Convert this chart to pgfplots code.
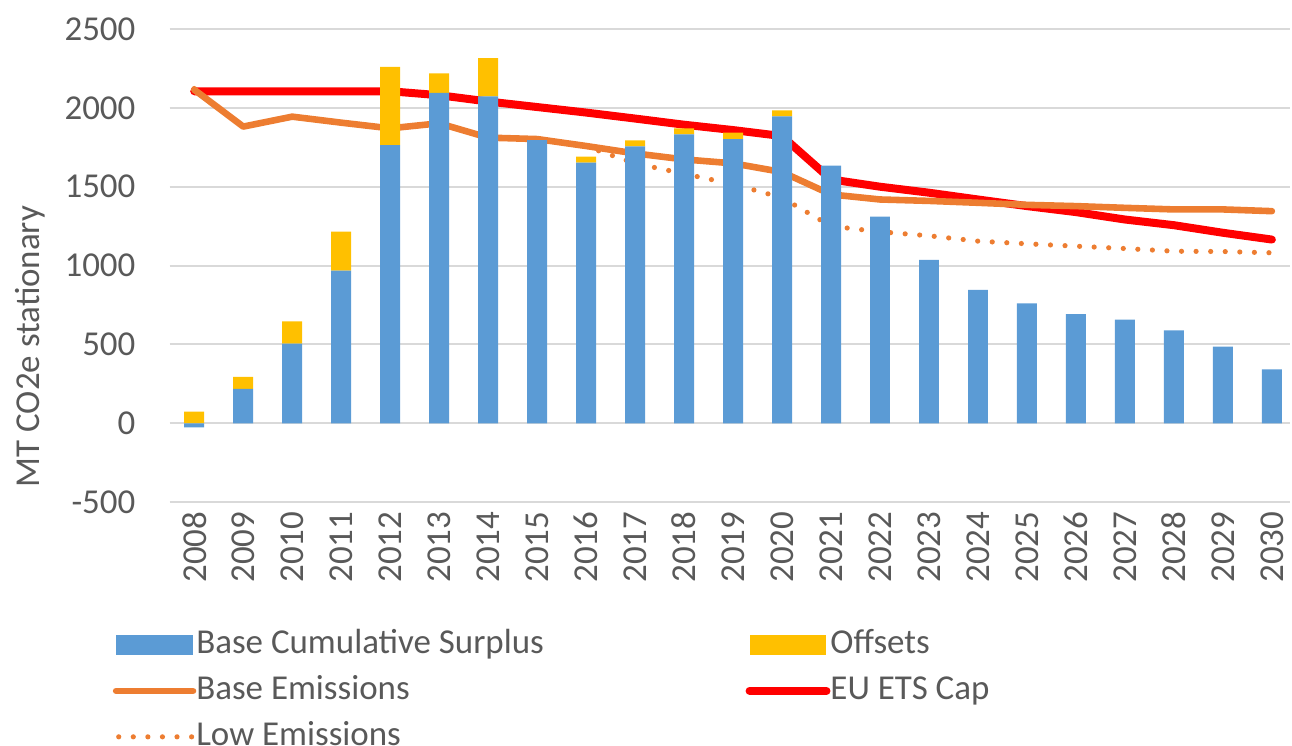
\documentclass[border=0pt]{standalone}
\usepackage{fontspec}
\setmainfont{Carlito}
\usepackage{pgfplots}
\pgfplotsset{compat=1.18}
\definecolor{barblue}{HTML}{5B9BD5}
\definecolor{offgold}{HTML}{FFC000}
\definecolor{emorange}{HTML}{ED7D31}
\definecolor{capred}{HTML}{FF0000}
\definecolor{txtgray}{HTML}{595959}
\definecolor{gridgray}{HTML}{D9D9D9}

\begin{document}
\begin{tikzpicture}
\begin{axis}[
  at={(0,0)}, anchor=south west,
  scale only axis, width=561pt, height=237pt,
  xmin=2007.5, xmax=2030.37,
  ymin=-500, ymax=2500,
  xtick={2008,...,2030},
  ytick={-500,0,...,2500},
  scaled ticks=false,
  /pgf/number format/1000 sep={},
  /pgf/number format/assume math mode=true,
  axis line style={draw=none},
  major tick length=0pt,
  ymajorgrids, grid style={gridgray, line width=1pt},
  tick label style={font=\fontsize{17.5}{21}\selectfont, text=txtgray},
  yticklabel style={anchor=east, inner sep=0pt, xshift=-17pt},
  xticklabel style={yshift=-4.5pt, rotate=90, anchor=east, inner sep=0pt},
  ylabel={MT CO2e stationary},
  every axis y label/.style={at={(axis description cs:0,0.329)}, xshift=-70pt, rotate=90,
    anchor=center, font=\fontsize{17.5}{21}\selectfont, text=txtgray},
  ybar stacked, bar width=10pt,
  stack negative=separate,
  legend columns=2,
  legend cell align=left,
  legend style={at={(axis description cs:-0.0508,-0.270)}, anchor=north west,
    inner sep=0pt, outer sep=0pt, row sep=8pt,
    draw=none, fill=none, font=\fontsize{17.5}{21}\selectfont, text=txtgray,
    nodes={inner sep=0pt, text height=12pt, text depth=3pt},
    /tikz/every odd column/.append style={column sep=0pt},
    /tikz/every even column/.append style={column sep=101pt}},
]
% base cumulative surplus
\addplot[fill=barblue, draw=none,
  legend image code/.code={\fill[barblue] (0pt,-5pt) rectangle (38.5pt,5pt);}]
coordinates {
(2008,-25)(2009,219)(2010,505)(2011,968)(2012,1764)(2013,2095)(2014,2073)(2015,1795)
(2016,1652)(2017,1756)(2018,1832)(2019,1802)(2020,1946)(2021,1633)(2022,1311)(2023,1036)
(2024,846)(2025,761)(2026,693)(2027,657)(2028,589)(2029,486)(2030,342)
};
\addlegendentry{Base Cumulative Surplus}
% offsets
\addplot[fill=offgold, draw=none,
  legend image code/.code={\fill[offgold] (0pt,-5pt) rectangle (38.5pt,5pt);}]
coordinates {
(2008,75)(2009,76)(2010,141)(2011,248)(2012,496)(2013,124)(2014,242)(2015,0)
(2016,38)(2017,38)(2018,38)(2019,41)(2020,38)(2021,0)(2022,0)(2023,0)
(2024,0)(2025,0)(2026,0)(2027,0)(2028,0)(2029,0)(2030,0)
};
\addlegendentry{Offsets}
% base emissions
\addplot[emorange, line width=3.3pt, sharp plot, no marks, line cap=round, line join=round, stack plots=false,
  legend image code/.code={\draw[emorange, line width=3.3pt, line cap=round] (0pt,0pt) -- (38.5pt,0pt);}]
coordinates {
(2008,2115)(2009,1881)(2010,1944)(2011,1906)(2012,1870)(2013,1902)(2014,1811)(2015,1802)
(2016,1758)(2017,1711)(2018,1673)(2019,1648)(2020,1593)(2021,1451)(2022,1419)(2023,1410)
(2024,1398)(2025,1385)(2026,1377)(2027,1366)(2028,1356)(2029,1356)(2030,1345)
};
\addlegendentry{Base Emissions}
% EU ETS cap
\addplot[capred, line width=4pt, sharp plot, no marks, line cap=round, line join=round, stack plots=false,
  legend image code/.code={\draw[capred, line width=4pt, line cap=round] (0pt,0pt) -- (38.5pt,0pt);}]
coordinates {
(2008,2105)(2009,2105)(2010,2105)(2011,2105)(2012,2105)(2013,2080)(2014,2040)(2015,2005)
(2016,1970)(2017,1932)(2018,1893)(2019,1859)(2020,1821)(2021,1546)(2022,1500)(2023,1462)
(2024,1419)(2025,1377)(2026,1339)(2027,1292)(2028,1256)(2029,1208)(2030,1165)
};
\addlegendentry{EU ETS Cap}
% low emissions
\addplot[emorange, line width=2.6pt, sharp plot, no marks, line cap=round, dash pattern=on 0pt off 7.3pt, stack plots=false,
  legend image code/.code={\draw[emorange, line width=2.6pt, line cap=round, dash pattern=on 0pt off 7.3pt] (1.3pt,0pt) -- (38.5pt,0pt);}]
coordinates {
(2008,2122)(2009,1881)(2010,1944)(2011,1906)(2012,1870)(2013,1902)(2014,1811)(2015,1802)
(2016,1755)(2017,1648)(2018,1582)(2019,1516)(2020,1430)(2021,1250)(2022,1214)(2023,1189)
(2024,1155)(2025,1138)(2026,1123)(2027,1108)(2028,1091)(2029,1089)(2030,1081)
};
\addlegendentry{Low Emissions}
\end{axis}
\pgfresetboundingbox
\path[use as bounding box] (-85pt,-122pt) rectangle (562pt,251.5pt);
\end{tikzpicture}
\end{document}
